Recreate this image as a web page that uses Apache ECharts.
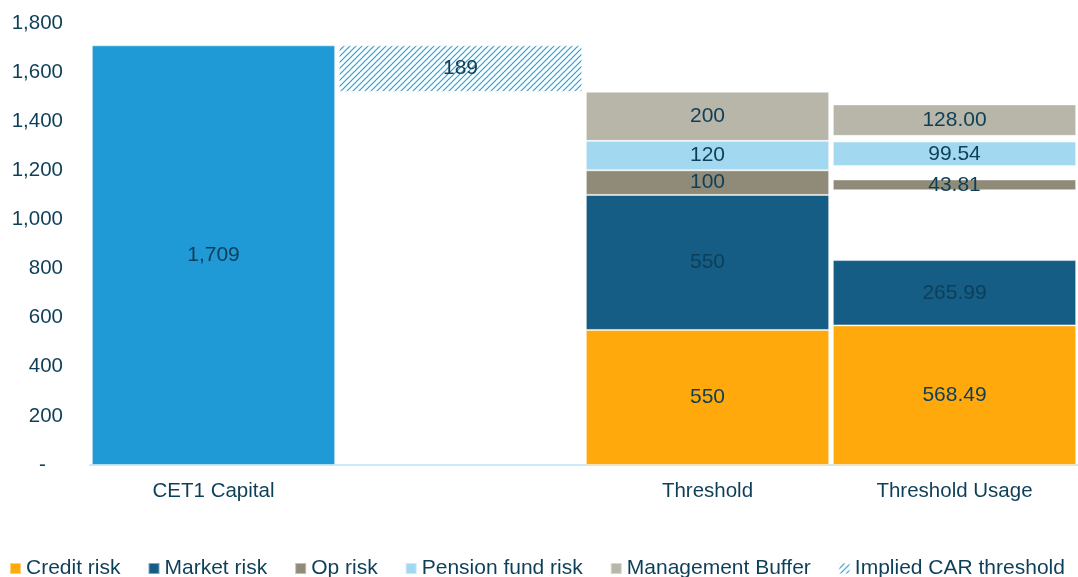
<!DOCTYPE html>
<html>
<head>
<meta charset="utf-8">
<script src="https://cdn.jsdelivr.net/npm/echarts@6/dist/echarts.min.js"></script>
<style>
html,body{margin:0;padding:0;background:#fff;}
#chart{width:1078px;height:577px;}
</style>
</head>
<body>
<div id="chart"></div>
<script>
var categories = ['CET1 Capital', '', 'Threshold', 'Threshold Usage'];
var cet1 = [1709, '-', '-', '-'];
var impliedBase = ['-', 1520, '-', '-'];
var implied = ['-', 189, '-', '-'];
var credit = ['-', '-', 550, 568.49];
var market = ['-', '-', 550, 265.99];
var gap1 = ['-', '-', 0, 284.5];
var opRisk = ['-', '-', 100, 43.81];
var gap2 = ['-', '-', 0, 55];
var pension = ['-', '-', 120, 99.54];
var gap3 = ['-', '-', 0, 23];
var buffer = ['-', '-', 200, 128];
var yTicks = [0, 1800, 200];

var font = 'Liberation Sans, Arial, sans-serif';
var txt = '#0d3f58';

// hatch pattern for implied threshold
var cv = document.createElement('canvas');
cv.width = 6; cv.height = 6;
var cx = cv.getContext('2d');
cx.strokeStyle = '#2a9fd8';
cx.lineWidth = 1.2;
cx.beginPath();
cx.moveTo(0, 6); cx.lineTo(6, 0);
cx.moveTo(-3, 3); cx.lineTo(3, -3);
cx.moveTo(3, 9); cx.lineTo(9, 3);
cx.stroke();
var hatch = {image: cv, repeat: 'repeat'};

function fmt(p){
    if (p.dataIndex == 3) return p.value.toFixed(2);
    return p.value.toLocaleString('en-US');
}

function bar(name, data, color, show){
    return {
        name: name,
        type: 'bar',
        stack: 'a',
        data: data,
        barCategoryGap: '1.5%',
        itemStyle: show ? {color: color, borderColor: 'rgba(255,255,255,0.45)', borderWidth: 1}
                        : {color: 'transparent'},
        label: {
            show: show,
            position: 'inside',
            formatter: fmt,
            fontFamily: font,
            fontSize: 21,
            color: txt
        },
        emphasis: {disabled: true},
        silent: !show
    };
}

var chart = echarts.init(document.getElementById('chart'));
var option = {
    animation: false,
    grid: {left: 90, right: -3, top: 23, bottom: 112},
    legend: {
        data: ['Credit risk', 'Market risk', 'Op risk', 'Pension fund risk', 'Management Buffer', 'Implied CAR threshold'],
        left: 4,
        top: 553,
        width: 1074,
        itemWidth: 11,
        itemHeight: 11,
        itemGap: 27,
        icon: 'rect',
        textStyle: {fontFamily: font, fontSize: 21, color: txt}
    },
    xAxis: {
        type: 'category',
        data: categories,
        axisLine: {lineStyle: {color: '#c9ecf8', width: 2}},
        axisTick: {show: false},
        axisLabel: {fontFamily: font, fontSize: 20.5, color: txt, margin: 16}
    },
    yAxis: {
        type: 'value',
        min: yTicks[0],
        max: yTicks[1],
        interval: yTicks[2],
        splitLine: {show: false},
        axisLine: {show: false},
        axisTick: {show: false},
        axisLabel: {
            fontFamily: font, fontSize: 20.5, color: txt, margin: 27,
            formatter: function (v) { return v == 0 ? '-   ' : v.toLocaleString('en-US'); }
        }
    },
    series: [
        bar('CET1 Capital', cet1, '#1f9ad6', true),
        bar('base', impliedBase, null, false),
        bar('Implied CAR threshold', implied, hatch, true),
        bar('Credit risk', credit, '#ffa90c', true),
        bar('Market risk', market, '#155d84', true),
        bar('gap1', gap1, null, false),
        bar('Op risk', opRisk, '#8f8b78', true),
        bar('gap2', gap2, null, false),
        bar('Pension fund risk', pension, '#a3d8f1', true),
        bar('gap3', gap3, null, false),
        bar('Management Buffer', buffer, '#b8b5a9', true)
    ]
};
chart.setOption(option);
</script>
</body>
</html>
